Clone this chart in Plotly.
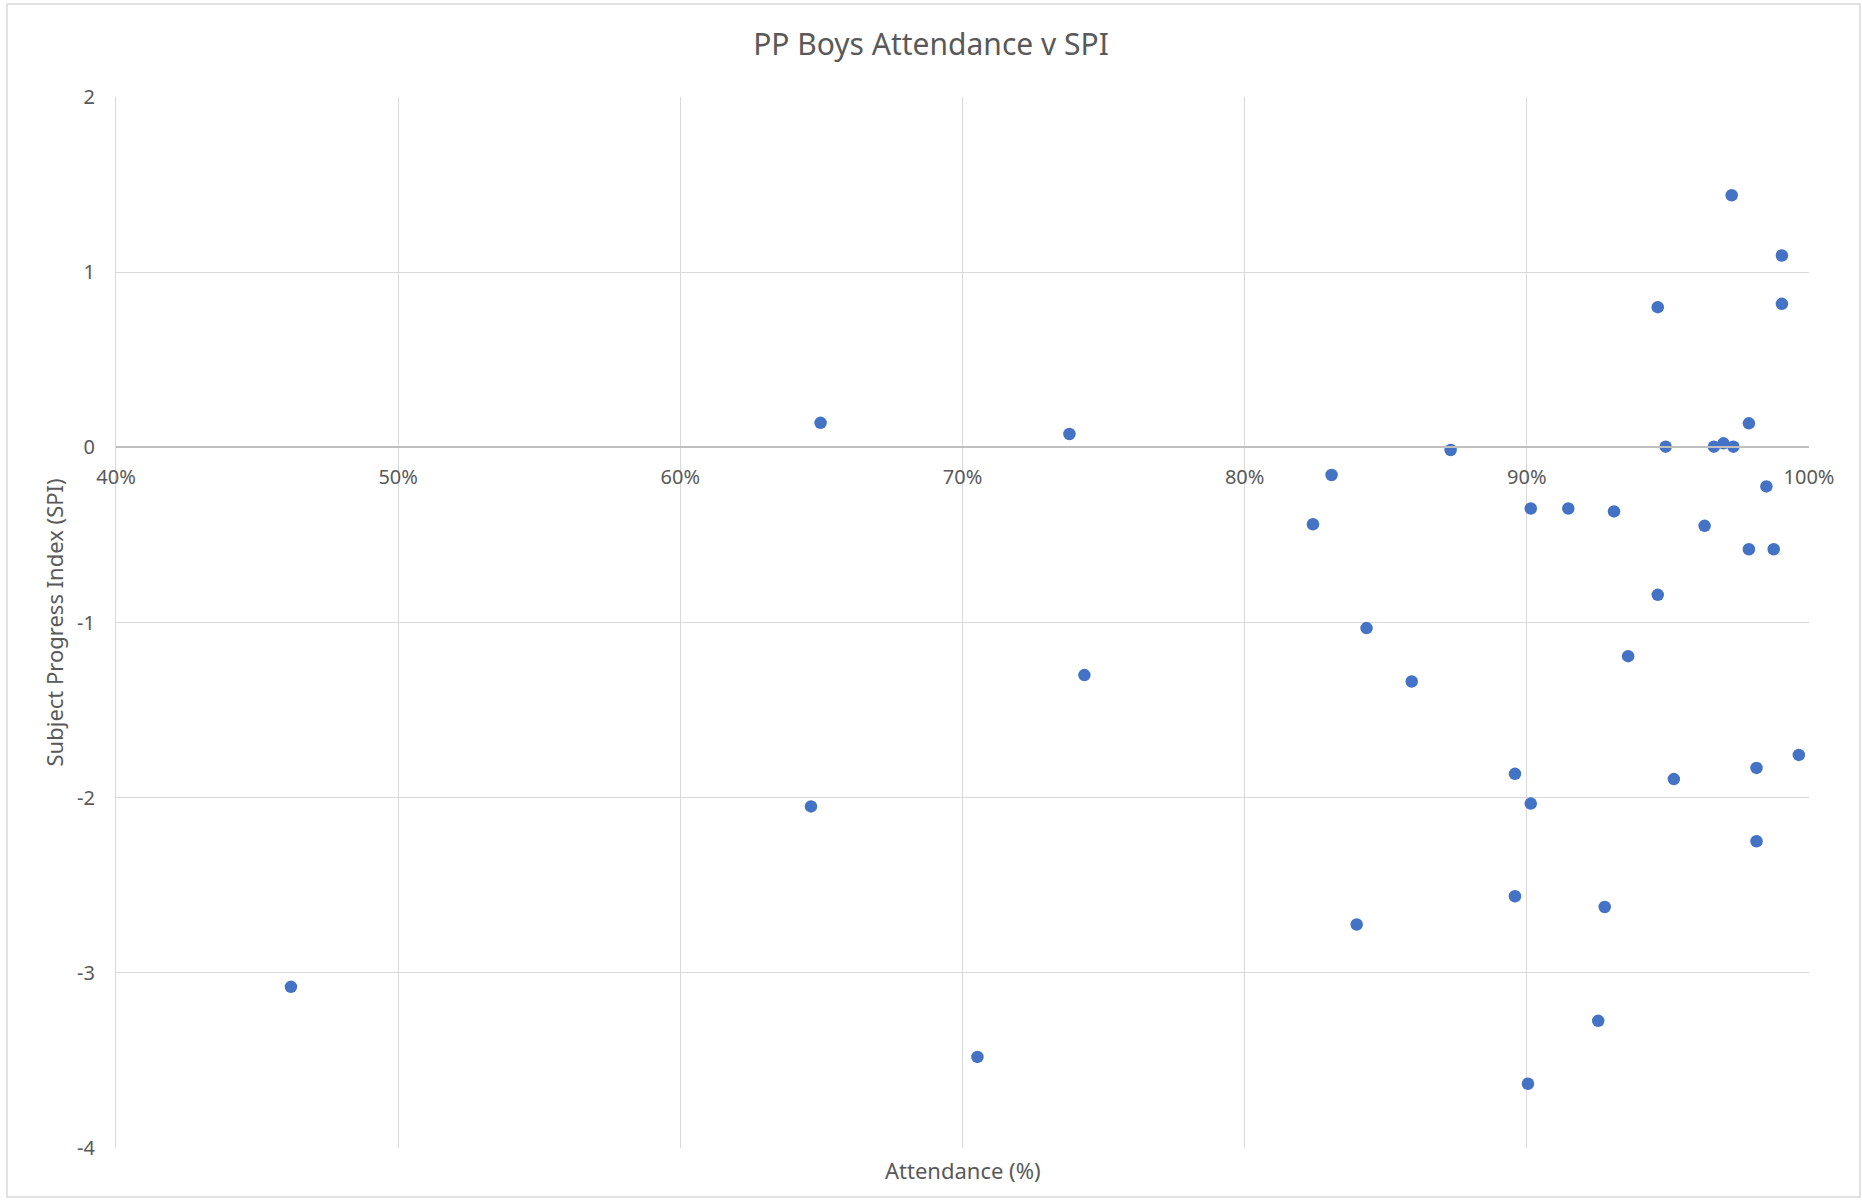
import plotly.graph_objects as go

# Data
attendance = [0.462, 0.6497, 0.6463, 0.7379, 0.7432, 0.7053, 0.8242, 0.8308, 0.8432, 0.8397,
              0.8592, 0.8730, 0.9014, 0.9147, 0.9309, 0.8958, 0.9014, 0.8958, 0.9276, 0.9253,
              0.9004, 0.9359, 0.9464, 0.9464, 0.9492, 0.9521, 0.9630, 0.9663, 0.9697, 0.9732,
              0.9726, 0.9787, 0.9787, 0.9849, 0.9875, 0.9904, 0.9904, 0.9814, 0.9814, 0.9964]
spi = [-3.08, 0.14, -2.05, 0.076, -1.30, -3.48, -0.439, -0.158, -1.032, -2.724,
       -1.337, -0.015, -0.349, -0.349, -0.366, -1.864, -2.034, -2.563, -2.624, -3.274,
       -3.633, -1.192, 0.80, -0.842, 0.004, -1.894, -0.448, 0.004, 0.023, 0.004,
       1.439, 0.137, -0.582, -0.223, -0.582, 1.095, 0.819, -1.830, -2.249, -1.756]

x_ticks = [0.4, 0.5, 0.6, 0.7, 0.8, 0.9, 1.0]
y_ticks = [2, 1, 0, -1, -2, -3, -4]
y_tick_labels = ["2", "1", "0", "-1", "-2", "-3", "-4"]
x_range = [0.4, 1.0]
y_range = [-4, 2]

title_text = "PP Boys Attendance v SPI"
x_title = "Attendance (%)"
y_title = "Subject Progress Index (SPI)"

W, H = 1862, 1200
ML, MR, MT, MB = 116, 53, 97, 52
pw, ph = W - ML - MR, H - MT - MB

FONT = "Noto Sans"
GRAY = "#595959"
GRID = "#d9d9d9"

fig = go.Figure()
fig.add_trace(go.Scatter(
    x=attendance, y=spi, mode="markers",
    marker=dict(color="#4472C4", size=12.5, line=dict(width=0)),
    showlegend=False,
))

# x axis crosses at y = 0
x_pos = (0 - y_range[0]) / (y_range[1] - y_range[0])

fig.update_layout(
    width=W, height=H,
    margin=dict(l=ML, r=MR, t=MT, b=MB),
    paper_bgcolor="white", plot_bgcolor="white",
    font=dict(family=FONT, color=GRAY),
    title=dict(text=title_text, x=0.5, xref="container", xanchor="center",
               y=1 - 44 / H, yanchor="middle",
               font=dict(family=FONT, size=30, color=GRAY)),
    xaxis=dict(range=x_range, tickvals=x_ticks, tickformat=".0%",
               showgrid=True, gridcolor=GRID, gridwidth=1,
               showline=True, linecolor="#bfbfbf", linewidth=1.5,
               anchor="free", position=x_pos,
               ticks="", ticklabelstandoff=12,
               tickfont=dict(family=FONT, size=20, color=GRAY),
               zeroline=False, fixedrange=True),
    yaxis=dict(range=y_range, tickvals=y_ticks, ticktext=y_tick_labels,
               showgrid=True, gridcolor=GRID, gridwidth=1,
               showline=True, linecolor=GRID, linewidth=1,
               ticks="", ticklabelstandoff=16,
               tickfont=dict(family=FONT, size=20, color=GRAY),
               zeroline=False, fixedrange=True),
)

fig.add_annotation(text=x_title, xref="paper", yref="paper", x=0.5, y=0,
                   yshift=-22, showarrow=False, yanchor="middle",
                   font=dict(family=FONT, size=22, color=GRAY))
fig.add_annotation(text=y_title, xref="paper", yref="paper", x=0, y=0.5,
                   xshift=-63, showarrow=False, textangle=-90, xanchor="center",
                   font=dict(family=FONT, size=22, color=GRAY))

# chart-area border
bx0, by0, bx1, by1 = 7, 4, 1860, 1197
fig.add_shape(type="rect", xref="paper", yref="paper",
              x0=(bx0 - ML) / pw, x1=(bx1 - ML) / pw,
              y0=(H - MB - by1) / ph, y1=(H - MB - by0) / ph,
              line=dict(color=GRID, width=1.5), fillcolor="rgba(0,0,0,0)", layer="below")

fig.write_html("out.html", config={"displayModeBar": False},
               post_script="document.body.style.margin='0';")
